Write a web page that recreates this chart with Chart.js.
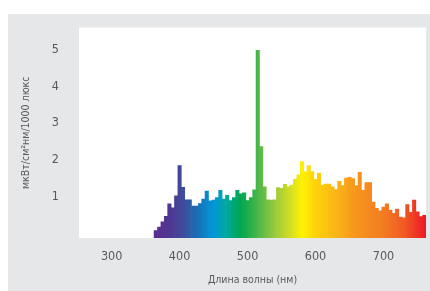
<!DOCTYPE html>
<html>
<head>
<meta charset="utf-8">
<script src="https://cdn.jsdelivr.net/npm/chart.js@4.4.1/dist/chart.umd.min.js"></script>
<style>
  html, body { margin: 0; padding: 0; background: #fff; }
  canvas { display: block; }
</style>
</head>
<body>
<canvas id="chart" width="430" height="291"></canvas>
<script>
// wavelength bins (nm), 5 nm wide
const wavelengths = [];
for (let w = 365; w <= 760; w += 5) wavelengths.push(w);

// spectral power, мкВт/см²нм/1000 люкс
const power = [
  0.07, 0.17, 0.31, 0.46, 0.80, 0.69, 1.02, 1.84, 1.25, 0.91,
  0.91, 0.74, 0.74, 0.81, 0.93, 1.15, 0.88, 0.90, 0.97, 1.17,
  0.93, 1.03, 0.89, 0.97, 1.17, 1.07, 1.10, 0.89, 0.97, 1.18,
  4.98, 2.36, 1.26, 0.91, 0.90, 0.91, 1.24, 1.22, 1.33, 1.26,
  1.31, 1.47, 1.59, 1.95, 1.67, 1.84, 1.68, 1.47, 1.64, 1.31,
  1.34, 1.34, 1.26, 1.19, 1.41, 1.30, 1.50, 1.52, 1.49, 1.30,
  1.66, 1.17, 1.38, 1.38, 0.85, 0.68, 0.61, 0.71, 0.80, 0.63,
  0.54, 0.66, 0.44, 0.42, 0.78, 0.57, 0.90, 0.58, 0.45, 0.49
];

const xTicks = [300, 400, 500, 600, 700];
const yTicks = [1, 2, 3, 4, 5];
const xMin = 252, xMax = 762.5;
const yMin = -0.13, yMax = 5.6;

// spectrum colours by wavelength
const spectrum = [
  [365, '#5a2d8e'], [390, '#4b3a94'], [405, '#3f4c9c'], [425, '#1a6db4'],
  [450, '#0098d8'], [470, '#00a99a'], [490, '#00a650'], [505, '#2bb04a'],
  [520, '#5cb947'], [545, '#a6ce39'], [565, '#d9e021'], [580, '#fff200'],
  [600, '#fdd20a'], [630, '#fbb615'], [660, '#f7941d'], [700, '#f37b20'],
  [730, '#f15a24'], [760, '#ed1c24']
];

const txt = '#58595b';
const family = "'Liberation Sans Narrow', 'DejaVu Sans Condensed', 'Open Sans', sans-serif";

function spectrumFill(context) {
  const chart = context.chart;
  const area = chart.chartArea;
  if (!area) return spectrum[0][1];
  const x = chart.scales.x;
  const x0 = x.getPixelForValue(spectrum[0][0]);
  const x1 = x.getPixelForValue(spectrum[spectrum.length - 1][0]);
  const g = chart.ctx.createLinearGradient(x0, 0, x1, 0);
  spectrum.forEach(([w, c]) => {
    g.addColorStop((x.getPixelForValue(w) - x0) / (x1 - x0), c);
  });
  return g;
}

const panel = {
  id: 'panel',
  beforeDraw(chart) {
    const { ctx, chartArea: a } = chart;
    ctx.save();
    ctx.fillStyle = '#ffffff';
    ctx.fillRect(0, 0, chart.width, chart.height);
    ctx.fillStyle = '#e6e7e8';
    ctx.fillRect(8, 14, chart.width - 8, chart.height - 14);
    ctx.fillStyle = '#ffffff';
    ctx.fillRect(a.left, a.top, a.right - a.left, a.bottom - a.top);
    ctx.restore();
  }
};

new Chart(document.getElementById('chart').getContext('2d'), {
  type: 'bar',
  data: {
    datasets: [{
      data: wavelengths.map((w, i) => ({ x: w, y: power[i] })),
      backgroundColor: spectrumFill,
      borderWidth: 0,
      base: yMin,
      categoryPercentage: 1,
      barPercentage: 1
    }]
  },
  options: {
    responsive: false,
    animation: false,
    devicePixelRatio: 1,
    layout: { padding: { left: 0, right: 4, top: 26, bottom: 0 } },
    plugins: { legend: { display: false }, tooltip: { enabled: false } },
    scales: {
      x: {
        type: 'linear',
        min: xMin,
        max: xMax,
        offset: false,
        afterBuildTicks: axis => { axis.ticks = xTicks.map(v => ({ value: v })); },
        afterFit: axis => { axis.height = 53; },
        grid: { display: false, drawTicks: false },
        border: { display: false },
        ticks: { color: txt, padding: 11, maxRotation: 0, font: { family, size: 12.5 } },
        title: {
          display: true,
          text: 'Длина волны (нм)',
          color: txt,
          font: { family, size: 10.5 },
          padding: { top: 0, bottom: 4 }
        }
      },
      y: {
        min: yMin,
        max: yMax,
        afterBuildTicks: axis => { axis.ticks = yTicks.map(v => ({ value: v })); },
        afterFit: axis => { axis.width = 79; },
        grid: { display: false, drawTicks: false },
        border: { display: false },
        ticks: { color: txt, padding: 20, font: { family, size: 12.5 } },
        title: {
          display: true,
          text: 'мкВт/см²нм/1000 люкс',
          color: txt,
          font: { family, size: 10.5 },
          padding: { top: 20, bottom: 0 }
        }
      }
    }
  },
  plugins: [panel]
});
</script>
</body>
</html>
